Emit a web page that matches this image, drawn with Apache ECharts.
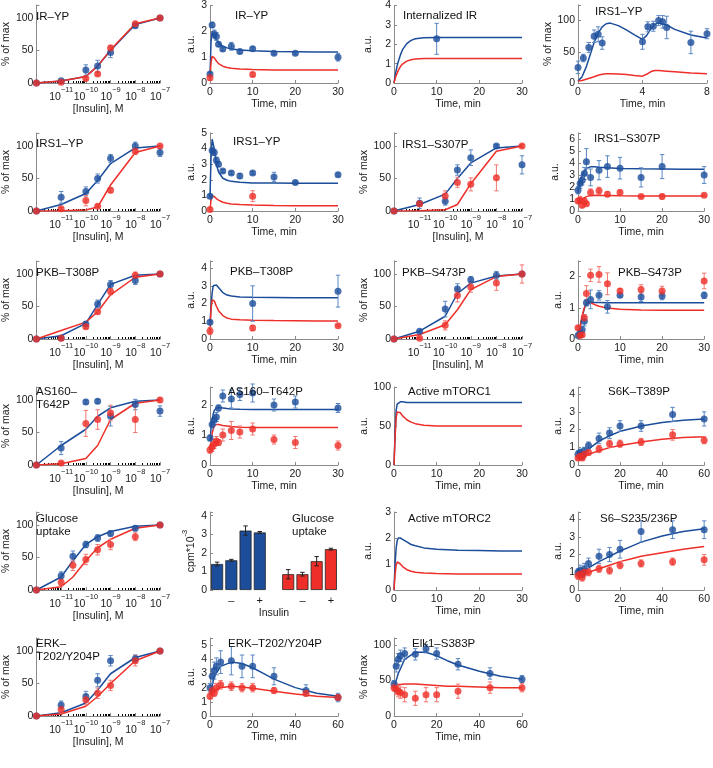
<!DOCTYPE html>
<html><head><meta charset="utf-8">
<script src="https://cdn.jsdelivr.net/npm/echarts@6/dist/echarts.min.js"></script>
<style>html,body{margin:0;padding:0;background:#fff}#c{width:713px;height:768px}</style>
</head><body><div id="c"></div>
<script>
// ---------------- DATA ----------------
const DOSE = [1e-12, 1e-11, 1e-10, 3e-10, 1e-9, 1e-8, 1e-7]; // first = no insulin
const GLU_DOSE = [1e-12, 1e-11, 3e-11, 1e-10, 3e-10, 1e-9, 1e-8, 1e-7];
const T12 = [0, 0.5, 1, 1.5, 2, 3, 5, 7, 10, 15, 20, 30];
const T3 = [0, 10, 30];
const T2 = [0, 10];
const T16 = [0, 1, 2, 3, 5, 10, 15, 20, 30, 45, 60];
const MT = [0, 0.25, 0.5, 0.75, 1, 1.5, 2, 3, 4, 5, 7, 10, 15, 20, 25, 30];
const MT60 = [0, 2, 5, 10, 15, 20, 25, 30, 40, 50, 60];
const MT8 = [0, 0.25, 0.5, 0.75, 1, 1.25, 1.5, 1.75, 2, 2.5, 3, 3.5, 4, 4.25, 4.5, 4.75, 5, 5.5, 6, 7, 8];

// IR-YP dose
const irDoseBlue = [0, 3.5, 20, 26, 47, 88, 100], irDoseBlueErr = [0, 1, 8, 9, 8, 3, 0];
const irDoseRed = [0, 1, 7, 14, 54, 91, 100], irDoseRedErr = [0, 1, 2, 2, 4, 3, 1];
const irDoseModelBlue = [0, 3, 10, 26, 50, 90, 100], irDoseModelRed = [0, 3, 10, 26, 51, 91, 100];
// IR-YP time
const irTimeBlue = [0.35, 2.25, 1.9, 1.8, 1.5, 1.32, 1.42, 1.22, 1.33, 1.15, 1.15, 1.0];
const irTimeBlueErr = [0.05, 0.1, 0.15, 0.15, 0.08, 0.08, 0.15, 0.08, 0.06, 0.05, 0.06, 0.15];
const irTimeRed = [0.2, 0.33], irTimeRedErr = [0.1, 0.08];
const irTimeModelBlue = [0.3, 1.6, 1.95, 1.92, 1.85, 1.68, 1.55, 1.42, 1.36, 1.32, 1.28, 1.25, 1.22, 1.21, 1.2, 1.2];
const irTimeModelRed = [0.2, 0.8, 1.03, 1.04, 0.97, 0.85, 0.75, 0.65, 0.6, 0.57, 0.54, 0.52, 0.5, 0.5, 0.5, 0.5];
// Internalized IR
const intModelBlue = [0, 0.35, 0.65, 0.9, 1.1, 1.45, 1.72, 2.03, 2.2, 2.28, 2.33, 2.35, 2.35, 2.35, 2.35, 2.35];
const intModelRed = [0, 0.2, 0.38, 0.52, 0.65, 0.85, 0.98, 1.13, 1.2, 1.24, 1.26, 1.27, 1.27, 1.27, 1.27, 1.27];
const intBlueT = [10], intBlue = [2.28], intBlueErr = [0.8];
// IRS1-YP 0-8 min
const irs1T8 = [0, 0.33, 0.67, 1, 1.25, 1.5, 4, 4.33, 4.67, 5, 5.25, 5.5, 7, 8];
const irs1T8Blue = [25, 40, 57, 75, 78, 64, 66, 90, 91, 100, 98, 89, 65, 79];
const irs1T8BlueErr = [10, 6, 8, 10, 12, 10, 12, 8, 8, 8, 10, 18, 18, 8];
const irs1T8ModelBlue = [3, 10, 25, 45, 65, 80, 90, 95, 96, 92, 85, 77, 70, 76, 86, 94, 96, 93, 86, 77, 72];
const irs1T8ModelRed = [3, 4, 6, 8, 10, 12.5, 14, 15, 15, 14.5, 13.5, 12, 11, 14, 18, 20, 20, 19, 18, 16, 15];
// IRS1-YP dose
const irs1DoseBlue = [0, 21, 30, 50, 81, 100, 90], irs1DoseBlueErr = [0, 9, 7, 7, 6, 6, 6];
const irs1DoseRed = [0, 3.5, 16, 7.5, 32, 92, 100], irs1DoseRedErr = [0, 2, 8, 2, 4, 5, 1];
const irs1DoseModelBlue = [0, 10, 27, 47, 73, 97, 100], irs1DoseModelRed = [0, 0.5, 1.5, 6, 40, 90, 100];
// IRS1-YP time
const irs1TimeBlue = [0.95, 3.88, 3.75, 3.25, 3.0, 2.56, 2.44, 2.25, 2.44, 2.18, 1.82, 2.33];
const irs1TimeBlueErr = [0.1, 0.2, 0.2, 0.2, 0.15, 0.1, 0.1, 0.15, 0.1, 0.3, 0.1, 0.1];
const irs1TimeRed = [0.1, 0.95], irs1TimeRedErr = [0.1, 0.35];
const irs1TimeModelBlue = [0.9, 3.5, 4.6, 4.5, 4.0, 3.0, 2.5, 2.1, 1.97, 1.9, 1.85, 1.8, 1.79, 1.78, 1.78, 1.78];
const irs1TimeModelRed = [0.1, 0.7, 0.98, 1.0, 0.92, 0.8, 0.7, 0.56, 0.5, 0.45, 0.41, 0.38, 0.35, 0.34, 0.33, 0.33];
// IRS1-S307P dose
const s307DoseBlue = [0, 12, 15, 63, 82, 100, 71], s307DoseBlueErr = [0, 8, 6, 8, 12, 2, 14];
const s307DoseRed = [0, 11, 23, 44, 41, 51, 100], s307DoseRedErr = [0, 4, 8, 8, 10, 20, 2];
const s307DoseModelBlue = [0, 10, 26, 50, 74, 97, 100], s307DoseModelRed = [0, 0.5, 2, 10, 42, 92, 100];
// IRS1-S307P time
const s307TimeBlue = [1.73, 2.3, 2.57, 3.13, 4.1, 2.8, 3.4, 3.7, 3.57, 2.8, 3.7, 3.0];
const s307TimeBlueErr = [0.3, 0.4, 0.4, 0.5, 1.1, 0.7, 0.8, 0.9, 0.9, 0.8, 1.0, 0.7];
const s307TimeRed = [0.84, 0.92, 0.47, 0.84, 0.61, 1.54, 1.68, 1.4, 1.54, 1.2, 1.2, 1.31];
const s307TimeRedErr = [0.2, 0.3, 0.2, 0.2, 0.1, 0.3, 0.3, 0.2, 0.2, 0.1, 0.2, 0.1];
const s307TimeModelBlue = [1.7, 2.1, 2.5, 2.8, 3.0, 3.3, 3.55, 3.68, 3.68, 3.65, 3.6, 3.55, 3.52, 3.5, 3.48, 3.47];
const s307TimeModelRed = [0.85, 0.9, 0.94, 0.97, 1.0, 1.1, 1.2, 1.3, 1.31, 1.3, 1.29, 1.27, 1.26, 1.25, 1.25, 1.25];
// PKB-T308P dose
const t308DoseBlue = [0, 1.5, 23, 54, 84, 90, 100], t308DoseBlueErr = [0, 1, 3, 6, 6, 6, 1];
const t308DoseRed = [0, 1, 19, 42, 73, 98, 100], t308DoseRedErr = [0, 1, 3, 3, 5, 5, 3];
const t308DoseModelBlue = [0, 5, 24, 53, 84, 98, 100], t308DoseModelRed = [0, 13, 26, 42, 68, 95, 100];
// PKB-T308P time
const t308TimeBlue = [0.95, 2.0, 2.7], t308TimeBlueErr = [0.1, 1.0, 0.9];
const t308TimeRed = [0.45, 0.62, 0.75], t308TimeRedErr = [0.2, 0.15, 0.05];
const t308TimeModelBlue = [0.9, 1.8, 2.6, 3.0, 3.1, 3.05, 2.9, 2.62, 2.48, 2.42, 2.37, 2.35, 2.34, 2.33, 2.33, 2.33];
const t308TimeModelRed = [0.5, 1.7, 2.2, 2.25, 2.15, 1.85, 1.6, 1.32, 1.18, 1.12, 1.08, 1.06, 1.04, 1.03, 1.02, 1.02];
// PKB-S473P dose
const s473DoseBlue = [0, 12, 46, 77, 91, 98, 100], s473DoseBlueErr = [0, 2, 12, 8, 5, 6, 1];
const s473DoseRed = [0, 1, 21, 67, 80, 86, 100], s473DoseRedErr = [0, 1, 7, 10, 8, 11, 14];
const s473DoseModelBlue = [0, 12, 35, 70, 86, 97, 100], s473DoseModelRed = [0, 7, 22, 45, 76, 96, 100];
// PKB-S473P time
const s473TimeBlue = [0.11, 0.19, 0.3, 0.57, 1.16, 1.27, 1.4, 1.03, 1.4, 1.35, 1.38, 1.4];
const s473TimeBlueErr = [0.05, 0.05, 0.1, 0.15, 0.1, 0.3, 0.15, 0.2, 0.05, 0.15, 0.12, 0.1];
const s473TimeRed = [0.36, 0.11, 0.14, 0.68, 1.46, 2.04, 2.07, 1.77, 1.54, 1.59, 1.54, 1.86];
const s473TimeRedErr = [0.05, 0.05, 0.05, 0.1, 0.25, 0.2, 0.25, 0.35, 0.08, 0.15, 0.15, 0.25];
const s473TimeModelBlue = [0.1, 0.2, 0.35, 0.55, 0.72, 0.97, 1.12, 1.17, 1.17, 1.17, 1.16, 1.16, 1.16, 1.16, 1.16, 1.16];
const s473TimeModelRed = [0.1, 0.22, 0.38, 0.58, 0.75, 1.0, 1.15, 1.16, 1.1, 1.05, 0.99, 0.95, 0.93, 0.92, 0.92, 0.92];
// AS160-T642P dose
const as160DoseBlue = [0, 26, 97, 98, 75, 93, 83], as160DoseBlueErr = [0, 10, 3, 3, 15, 8, 8];
const as160DoseRed = [0, 3, 64, 70, 80, 70, 100], as160DoseRedErr = [0, 2, 20, 15, 12, 20, 3];
const as160DoseModelBlue = [0, 30, 55, 75, 88, 98, 100], as160DoseModelRed = [0, 2, 10, 30, 70, 95, 100];
// AS160-T642P time
const as160TimeBlue = [0.9, 1.35, 1.5, 1.6, 1.9, 2.3, 2.2, 2.35, 2.4, 2.0, 2.1, 1.9];
const as160TimeBlueErr = [0.1, 0.15, 0.15, 0.15, 0.1, 0.2, 0.3, 0.2, 0.3, 0.2, 0.2, 0.15];
const as160TimeRed = [0.5, 0.6, 0.7, 0.8, 0.75, 1.0, 1.15, 1.1, 1.2, 0.85, 0.75, 0.65];
const as160TimeRedErr = [0.1, 0.15, 0.15, 0.15, 0.1, 0.2, 0.3, 0.2, 0.2, 0.15, 0.2, 0.15];
const as160TimeModelBlue = [0.8, 1.2, 1.5, 1.7, 1.82, 1.9, 1.92, 1.9, 1.88, 1.87, 1.86, 1.85, 1.85, 1.85, 1.85, 1.85];
const as160TimeModelRed = [0.5, 0.8, 1.05, 1.2, 1.3, 1.35, 1.35, 1.32, 1.3, 1.28, 1.26, 1.25, 1.25, 1.25, 1.25, 1.25];
// Active mTORC1
const mtorc1ModelBlue = [0, 40, 70, 78, 80, 81, 81, 80, 80, 80, 80, 80, 80, 80, 80, 80];
const mtorc1ModelRed = [0, 35, 60, 68, 70, 67, 63, 58, 55, 53, 51, 50, 50, 50, 50, 50];
// S6K-T389P
const s6kBlue = [0.6, 0.7, 0.5, 0.8, 1.1, 1.5, 1.8, 2.2, 2.2, 2.85, 2.6], s6kBlueErr = [0.2, 0.2, 0.2, 0.2, 0.2, 0.3, 0.3, 0.3, 0.3, 0.4, 0.4];
const s6kRed = [0.4, 0.5, 0.4, 0.6, 0.7, 0.9, 1.2, 1.2, 1.3, 1.7, 1.4], s6kRedErr = [0.1, 0.15, 0.1, 0.15, 0.15, 0.2, 0.2, 0.2, 0.2, 0.3, 0.2];
const s6kModelBlue = [0.3, 0.6, 0.9, 1.35, 1.65, 1.9, 2.05, 2.2, 2.4, 2.52, 2.6];
const s6kModelRed = [0.3, 0.45, 0.6, 0.8, 0.98, 1.1, 1.2, 1.3, 1.45, 1.55, 1.6];
// Glucose uptake dose
const gluDoseBlue = [0, 22, 52, 70, 80, 87, 95, 100], gluDoseBlueErr = [0, 6, 8, 5, 5, 4, 4, 1];
const gluDoseRed = [0, 12, 38, 47, 62, 70, 82, 100], gluDoseRedErr = [0, 5, 8, 8, 8, 8, 6, 1];
const gluDoseModelBlue = [0, 20, 45, 70, 82, 90, 98, 100], gluDoseModelRed = [0, 5, 20, 45, 65, 78, 95, 100];
// Glucose uptake bars
const barCats = ['', '–', '', '+', '', '', '–', '', '+'];
const barBlue = [1.4, 1.6, 3.2, 3.1], barBlueErr = [0.1, 0.05, 0.25, 0.05];
const barRed = [0.85, 0.85, 1.55, 2.2], barRedErr = [0.25, 0.1, 0.25, 0.05];
// Active mTORC2
const mtorc2ModelBlue = [0, 1.0, 1.6, 1.9, 2.0, 2.0, 1.95, 1.85, 1.75, 1.7, 1.62, 1.57, 1.53, 1.52, 1.5, 1.5];
const mtorc2ModelRed = [0, 0.6, 0.95, 1.08, 1.1, 1.0, 0.9, 0.78, 0.72, 0.68, 0.65, 0.63, 0.62, 0.62, 0.62, 0.62];
// S6-S235/236P
const s6Blue = [1.0, 1.1, 0.9, 1.2, 1.5, 1.9, 2.0, 2.3, 3.3, 3.4, 3.4], s6BlueErr = [0.2, 0.3, 0.2, 0.3, 0.3, 0.4, 0.4, 0.5, 0.6, 0.5, 0.5];
const s6Red = [0.8, 0.9, 0.7, 1.0, 1.0, 1.2, 1.1, 1.4, 1.5, 1.6, 1.7], s6RedErr = [0.2, 0.2, 0.2, 0.2, 0.2, 0.2, 0.2, 0.2, 0.2, 0.2, 0.3];
const s6ModelBlue = [0.8, 1.0, 1.25, 1.6, 1.9, 2.2, 2.45, 2.7, 3.05, 3.3, 3.45];
const s6ModelRed = [0.8, 0.9, 1.0, 1.2, 1.4, 1.6, 1.75, 1.9, 2.1, 2.3, 2.45];
// ERK dose
const erkDoseBlue = [0, 17, 30, 55, 85, 88, 100], erkDoseBlueErr = [0, 6, 8, 10, 8, 6, 1];
const erkDoseRed = [0, 10, 25, 35, 47, 85, 100], erkDoseRedErr = [0, 5, 8, 8, 8, 8, 1];
const erkDoseModelBlue = [0, 5, 20, 40, 65, 90, 100], erkDoseModelRed = [0, 3, 15, 30, 50, 85, 100];
// ERK time
const erkBlue = [2.0, 2.8, 3.2, 3.5, 3.8, 3.9, 3.5, 3.5, 2.8, 1.8, 1.3], erkBlueErr = [0.3, 0.5, 0.6, 0.6, 0.8, 1.0, 0.8, 0.8, 0.6, 0.4, 0.3];
const erkRed = [1.4, 1.8, 1.6, 2.0, 2.2, 2.1, 2.0, 2.0, 1.8, 1.6, 1.3], erkRedErr = [0.2, 0.3, 0.2, 0.3, 0.3, 0.3, 0.3, 0.3, 0.2, 0.2, 0.2];
const erkModelBlue = [1.5, 2.8, 3.5, 3.8, 3.7, 3.4, 3.0, 2.6, 2.0, 1.6, 1.4];
const erkModelRed = [1.4, 1.8, 2.0, 2.1, 2.05, 1.95, 1.85, 1.75, 1.55, 1.4, 1.3];
// Elk1-S383P
const elkBlue = [45, 70, 80, 85, 88, 87, 95, 88, 73, 60, 52], elkBlueErr = [5, 8, 8, 8, 8, 8, 6, 8, 8, 8, 5];
const elkRed = [40, 38, 35, 33, 30, 25, 30, 30, 35, 40, 40], elkRedErr = [5, 8, 8, 8, 10, 10, 10, 10, 10, 8, 6];
const elkModelBlue = [40, 60, 80, 90, 90, 85, 78, 72, 63, 56, 52];
const elkModelRed = [40, 44, 45, 45, 44, 43, 42, 42, 41, 40, 40];

// ---------------- STYLE / LAYOUT ----------------
const C_BLUE = '#1b4d9b', C_RED = '#ee2e28', E_BLUE = '#5a87c3', E_RED = '#f27770';
const FONT = 'Liberation Sans';
const COLX = [31, 210, 394, 578], COLW = [129, 128, 128, 129];
const ROWB = [83, 211, 339, 465, 590, 716], PH = 78;

const zip = (xs, ys) => xs.map((x, i) => [x, ys[i]]);
const zip3 = (xs, ys, es) => xs.map((x, i) => [x, ys[i], es[i]]);

const line = (xs, ys, c) => ({kind: 'line', data: zip(xs, ys), color: c});
const pts = (xs, ys, es, c, ec) => ({kind: 'pts', data: zip3(xs, ys, es), color: c, ecolor: ec});

const PANELS = [
  {r:0,c:0,type:'dose',yMax:120,yInt:50,yName:'% of max',yGap:17,title:['IR–YP'],tx:36,ty:18,
   s:[pts(DOSE,irDoseBlue,irDoseBlueErr,C_BLUE,E_BLUE),pts(DOSE,irDoseRed,irDoseRedErr,C_RED,E_RED),line(DOSE,irDoseModelBlue,C_BLUE),line(DOSE,irDoseModelRed,C_RED)]},
  {r:0,c:1,type:'time',xMax:30,xInt:10,yMax:3,yInt:1,yName:'a.u.',yGap:13,title:['IR–YP'],tx:235,ty:17,
   s:[pts(T12,irTimeBlue,irTimeBlueErr,C_BLUE,E_BLUE),pts(T2,irTimeRed,irTimeRedErr,C_RED,E_RED),line(MT,irTimeModelBlue,C_BLUE),line(MT,irTimeModelRed,C_RED)]},
  {r:0,c:2,type:'time',xMax:30,xInt:10,yMax:4,yInt:1,yName:'a.u.',yGap:20,title:['Internalized IR'],tx:403,ty:17,
   s:[line(MT,intModelBlue,C_BLUE),line(MT,intModelRed,C_RED),pts(intBlueT,intBlue,intBlueErr,C_BLUE,E_BLUE)]},
  {r:0,c:3,type:'time',xMax:8,xInt:4,yMax:125,yInt:50,yName:'% of max',yGap:20,title:['IRS1–YP'],tx:595,ty:13,
   s:[pts(irs1T8,irs1T8Blue,irs1T8BlueErr,C_BLUE,E_BLUE),line(MT8,irs1T8ModelBlue,C_BLUE),line(MT8,irs1T8ModelRed,C_RED)]},

  {r:1,c:0,type:'dose',yMax:120,yInt:50,yName:'% of max',yGap:17,title:['IRS1–YP'],tx:36,ty:145,
   s:[pts(DOSE,irs1DoseBlue,irs1DoseBlueErr,C_BLUE,E_BLUE),pts(DOSE,irs1DoseRed,irs1DoseRedErr,C_RED,E_RED),line(DOSE,irs1DoseModelBlue,C_BLUE),line(DOSE,irs1DoseModelRed,C_RED)]},
  {r:1,c:1,type:'time',xMax:30,xInt:10,yMax:5,yInt:1,yName:'a.u.',yGap:13,title:['IRS1–YP'],tx:233,ty:143,
   s:[pts(T12,irs1TimeBlue,irs1TimeBlueErr,C_BLUE,E_BLUE),pts(T2,irs1TimeRed,irs1TimeRedErr,C_RED,E_RED),line(MT,irs1TimeModelBlue,C_BLUE),line(MT,irs1TimeModelRed,C_RED)]},
  {r:1,c:2,type:'dose',yMax:120,yInt:50,yName:'% of max',yGap:21,title:['IRS1–S307P'],tx:402,ty:146,
   s:[pts(DOSE,s307DoseBlue,s307DoseBlueErr,C_BLUE,E_BLUE),pts(DOSE,s307DoseRed,s307DoseRedErr,C_RED,E_RED),line(DOSE,s307DoseModelBlue,C_BLUE),line(DOSE,s307DoseModelRed,C_RED)]},
  {r:1,c:3,type:'time',xMax:30,xInt:10,yMax:6.5,yInt:1,yName:'a.u.',yGap:17,title:['IRS1–S307P'],tx:594,ty:140,
   s:[pts(T12,s307TimeBlue,s307TimeBlueErr,C_BLUE,E_BLUE),pts(T12,s307TimeRed,s307TimeRedErr,C_RED,E_RED),line(MT,s307TimeModelBlue,C_BLUE),line(MT,s307TimeModelRed,C_RED)]},

  {r:2,c:0,type:'dose',yMax:120,yInt:50,yName:'% of max',yGap:17,title:['PKB–T308P'],tx:36,ty:274,
   s:[pts(DOSE,t308DoseBlue,t308DoseBlueErr,C_BLUE,E_BLUE),pts(DOSE,t308DoseRed,t308DoseRedErr,C_RED,E_RED),line(DOSE,t308DoseModelBlue,C_BLUE),line(DOSE,t308DoseModelRed,C_RED)]},
  {r:2,c:1,type:'time',xMax:30,xInt:10,yMax:4.4,yInt:1,yName:'a.u.',yGap:13,title:['PKB–T308P'],tx:230,ty:273,
   s:[pts(T3,t308TimeBlue,t308TimeBlueErr,C_BLUE,E_BLUE),pts(T3,t308TimeRed,t308TimeRedErr,C_RED,E_RED),line(MT,t308TimeModelBlue,C_BLUE),line(MT,t308TimeModelRed,C_RED)]},
  {r:2,c:2,type:'dose',yMax:120,yInt:50,yName:'% of max',yGap:21,title:['PKB–S473P'],tx:402,ty:274,
   s:[pts(DOSE,s473DoseBlue,s473DoseBlueErr,C_BLUE,E_BLUE),pts(DOSE,s473DoseRed,s473DoseRedErr,C_RED,E_RED),line(DOSE,s473DoseModelBlue,C_BLUE),line(DOSE,s473DoseModelRed,C_RED)]},
  {r:2,c:3,type:'time',xMax:30,xInt:10,yMax:2.5,yInt:1,yName:'a.u.',yGap:14,title:['PKB–S473P'],tx:618,ty:274,
   s:[pts(T12,s473TimeBlue,s473TimeBlueErr,C_BLUE,E_BLUE),pts(T12,s473TimeRed,s473TimeRedErr,C_RED,E_RED),line(MT,s473TimeModelBlue,C_BLUE),line(MT,s473TimeModelRed,C_RED)]},

  {r:3,c:0,type:'dose',yMax:120,yInt:50,yName:'% of max',yGap:17,title:['AS160–','T642P'],tx:36,ty:393,
   s:[pts(DOSE,as160DoseBlue,as160DoseBlueErr,C_BLUE,E_BLUE),pts(DOSE,as160DoseRed,as160DoseRedErr,C_RED,E_RED),line(DOSE,as160DoseModelBlue,C_BLUE),line(DOSE,as160DoseModelRed,C_RED)]},
  {r:3,c:1,type:'time',xMax:30,xInt:10,yMax:2.6,yInt:1,yName:'a.u.',yGap:13,title:['AS160–T642P'],tx:228,ty:393,
   s:[pts(T12,as160TimeBlue,as160TimeBlueErr,C_BLUE,E_BLUE),pts(T12,as160TimeRed,as160TimeRedErr,C_RED,E_RED),line(MT,as160TimeModelBlue,C_BLUE),line(MT,as160TimeModelRed,C_RED)]},
  {r:3,c:2,type:'time',xMax:30,xInt:10,yMax:100,yInt:50,yName:'a.u.',yGap:20,title:['Active mTORC1'],tx:408,ty:393,
   s:[line(MT,mtorc1ModelBlue,C_BLUE),line(MT,mtorc1ModelRed,C_RED)]},
  {r:3,c:3,type:'time',xMax:60,xInt:20,yMax:4.4,yInt:1,yName:'a.u.',yGap:14,title:['S6K–T389P'],tx:608,ty:393,
   s:[pts(T16,s6kBlue,s6kBlueErr,C_BLUE,E_BLUE),pts(T16,s6kRed,s6kRedErr,C_RED,E_RED),line(MT60,s6kModelBlue,C_BLUE),line(MT60,s6kModelRed,C_RED)]},

  {r:4,c:0,type:'dose',yMax:120,yInt:50,yName:'% of max',yGap:17,title:['Glucose','uptake'],tx:36,ty:520,
   s:[pts(GLU_DOSE,gluDoseBlue,gluDoseBlueErr,C_BLUE,E_BLUE),pts(GLU_DOSE,gluDoseRed,gluDoseRedErr,C_RED,E_RED),line(GLU_DOSE,gluDoseModelBlue,C_BLUE),line(GLU_DOSE,gluDoseModelRed,C_RED)]},
  {r:4,c:1,type:'bar',yMax:4.2,yInt:1,yName:'{b|cpm*10}{s|-3}',yGap:13,title:['Glucose','uptake'],tx:292,ty:520, s:[]},
  {r:4,c:2,type:'time',xMax:30,xInt:10,yMax:3,yInt:1,yName:'a.u.',yGap:20,title:['Active mTORC2'],tx:408,ty:520,
   s:[line(MT,mtorc2ModelBlue,C_BLUE),line(MT,mtorc2ModelRed,C_RED)]},
  {r:4,c:3,type:'time',xMax:60,xInt:20,yMax:4.4,yInt:1,yName:'a.u.',yGap:14,title:['S6–S235/236P'],tx:600,ty:520,
   s:[pts(T16,s6Blue,s6BlueErr,C_BLUE,E_BLUE),pts(T16,s6Red,s6RedErr,C_RED,E_RED),line(MT60,s6ModelBlue,C_BLUE),line(MT60,s6ModelRed,C_RED)]},

  {r:5,c:0,type:'dose',yMax:120,yInt:50,yName:'% of max',yGap:17,title:['ERK–','T202/Y204P'],tx:36,ty:645,
   s:[pts(DOSE,erkDoseBlue,erkDoseBlueErr,C_BLUE,E_BLUE),pts(DOSE,erkDoseRed,erkDoseRedErr,C_RED,E_RED),line(DOSE,erkDoseModelBlue,C_BLUE),line(DOSE,erkDoseModelRed,C_RED)]},
  {r:5,c:1,type:'time',xMax:60,xInt:20,yMax:5.5,yInt:1,yName:'a.u.',yGap:13,title:['ERK–T202/Y204P'],tx:228,ty:645,
   s:[pts(T16,erkBlue,erkBlueErr,C_BLUE,E_BLUE),pts(T16,erkRed,erkRedErr,C_RED,E_RED),line(MT60,erkModelBlue,C_BLUE),line(MT60,erkModelRed,C_RED)]},
  {r:5,c:2,type:'time',xMax:60,xInt:20,yMax:110,yInt:50,yName:'% of max',yGap:19,title:['Elk1–S383P'],tx:412,ty:645,
   s:[pts(T16,elkBlue,elkBlueErr,C_BLUE,E_BLUE),pts(T16,elkRed,elkRedErr,C_RED,E_RED),line(MT60,elkModelBlue,C_BLUE),line(MT60,elkModelRed,C_RED)]}
];

// ---------------- BUILD ----------------
const AX = '#8a8a8a', TXT = '#1a1a1a';
const grids = [], xAxes = [], yAxes = [], series = [], graphics = [];

function errRender(color) {
  return function (params, api) {
    const x = api.value(0), y = api.value(1), e = api.value(2);
    if (!e) return null;
    const a = api.coord([x, y + e]), b = api.coord([x, y - e]);
    const w = 2.2;
    const st = {stroke: color, lineWidth: 1};
    return {type: 'group', children: [
      {type: 'line', shape: {x1: a[0], y1: a[1], x2: b[0], y2: b[1]}, style: st},
      {type: 'line', shape: {x1: a[0] - w, y1: a[1], x2: a[0] + w, y2: a[1]}, style: st},
      {type: 'line', shape: {x1: b[0] - w, y1: b[1], x2: b[0] + w, y2: b[1]}, style: st}
    ]};
  };
}

const yFmt = (step) => (v) => {
  const k = v / step;
  return Math.abs(k - Math.round(k)) < 1e-6 ? String(Math.round(v * 100) / 100) : '';
};

PANELS.forEach((p, i) => {
  const left = COLX[p.c], width = COLW[p.c], top = ROWB[p.r] - PH;
  grids.push({left: left, top: top, width: width, height: PH, containLabel: false});
  const baseLine = {show: true, onZero: false, lineStyle: {color: AX, width: 1}};
  const baseTick = {show: true, inside: true, length: 3, lineStyle: {color: AX}};
  if (p.type === 'dose') {
    xAxes.push({gridIndex: i, type: 'log', logBase: 10, min: 1e-12, max: 1e-7,
      axisLine: baseLine, axisTick: baseTick, splitLine: {show: false},
      minorTick: {show: true, splitNumber: 9, length: 2, lineStyle: {color: '#000', width: 1}},
      minorSplitLine: {show: false},
      axisLabel: {margin: 3, color: TXT, fontFamily: FONT,
        formatter: (v) => { const e = Math.round(Math.log10(v)); return e <= -12 ? '' : '{b|10}{s|−' + (-e) + '}'; },
        rich: {b: {fontSize: 10.5, fontFamily: FONT, color: TXT, lineHeight: 17, verticalAlign: 'bottom'},
               s: {fontSize: 7.5, fontFamily: FONT, color: TXT, lineHeight: 9, verticalAlign: 'top'}}},
      name: '[Insulin], M', nameLocation: 'middle', nameGap: 20,
      nameTextStyle: {fontSize: 10.5, fontFamily: FONT, color: TXT}});
  } else if (p.type === 'time') {
    xAxes.push({gridIndex: i, type: 'value', min: 0, max: p.xMax, interval: p.xInt,
      axisLine: baseLine, axisTick: baseTick, splitLine: {show: false},
      axisLabel: {margin: 4, fontSize: 10.5, fontFamily: FONT, color: TXT},
      name: 'Time, min', nameLocation: 'middle', nameGap: 13,
      nameTextStyle: {fontSize: 10.5, fontFamily: FONT, color: TXT}});
  } else {
    xAxes.push({gridIndex: i, type: 'category', data: barCats,
      axisLine: {show: false}, axisTick: {show: false}, splitLine: {show: false},
      axisLabel: {margin: 5, fontSize: 11, fontFamily: FONT, color: TXT, interval: 0},
      name: 'Insulin', nameLocation: 'middle', nameGap: 18,
      nameTextStyle: {fontSize: 10.5, fontFamily: FONT, color: TXT}});
  }
  yAxes.push({gridIndex: i, type: 'value', min: 0, max: p.yMax, interval: p.yInt,
    axisLine: baseLine, axisTick: baseTick, splitLine: {show: false},
    axisLabel: {margin: 3, fontSize: 10.5, fontFamily: FONT, color: TXT, formatter: yFmt(p.yInt)},
    name: p.yName, nameLocation: 'middle', nameGap: p.yGap,
    nameTextStyle: {fontSize: 10.5, fontFamily: FONT, color: TXT,
      rich: {b: {fontSize: 10.5, fontFamily: FONT, color: TXT, lineHeight: 16, verticalAlign: 'bottom'},
             s: {fontSize: 7.5, fontFamily: FONT, color: TXT, lineHeight: 9, verticalAlign: 'top'}}}});

  p.s.forEach((s) => {
    if (s.kind === 'line') {
      series.push({type: 'line', xAxisIndex: i, yAxisIndex: i, data: s.data, showSymbol: false,
        lineStyle: {color: s.color, width: 1.5}, itemStyle: {color: s.color}, z: 3, silent: true, animation: false});
    } else {
      series.push({type: 'custom', xAxisIndex: i, yAxisIndex: i, data: s.data, renderItem: errRender(s.ecolor),
        z: 4, silent: true, animation: false});
      series.push({type: 'scatter', xAxisIndex: i, yAxisIndex: i, data: s.data.map(d => [d[0], d[1]]),
        symbol: 'circle', symbolSize: 7, itemStyle: {color: s.color}, z: 5, silent: true, animation: false});
    }
  });

  if (p.type === 'bar') {
    const bData = barBlue.map(v => v).concat(['-', '-', '-', '-', '-']);
    const rData = ['-', '-', '-', '-', '-'].concat(barRed);
    series.push({type: 'bar', xAxisIndex: i, yAxisIndex: i, data: bData, stack: 'g', barWidth: 12,
      itemStyle: {color: C_BLUE, borderColor: '#222', borderWidth: 0.8}, animation: false});
    series.push({type: 'bar', xAxisIndex: i, yAxisIndex: i, data: rData, stack: 'g', barWidth: 12,
      itemStyle: {color: C_RED, borderColor: '#222', borderWidth: 0.8}, animation: false});
    const eb = barBlue.map((v, k) => [k, v, barBlueErr[k]]);
    const er = barRed.map((v, k) => [k + 5, v, barRedErr[k]]);
    series.push({type: 'custom', xAxisIndex: i, yAxisIndex: i, data: eb, renderItem: errRender('#222'), z: 6, animation: false});
    series.push({type: 'custom', xAxisIndex: i, yAxisIndex: i, data: er, renderItem: errRender('#222'), z: 6, animation: false});
  }

  p.title.forEach((t, k) => {
    graphics.push({type: 'text', left: p.tx, top: p.ty - 7 + k * 13,
      style: {text: t, font: '11.5px "Liberation Sans"', fill: '#111'}, z: 10});
  });
});

const chart = echarts.init(document.getElementById('c'), null, {renderer: 'canvas'});
chart.setOption({
  animation: false,
  backgroundColor: '#fff',
  grid: grids, xAxis: xAxes, yAxis: yAxes, series: series, graphic: graphics
});
</script></body></html>
